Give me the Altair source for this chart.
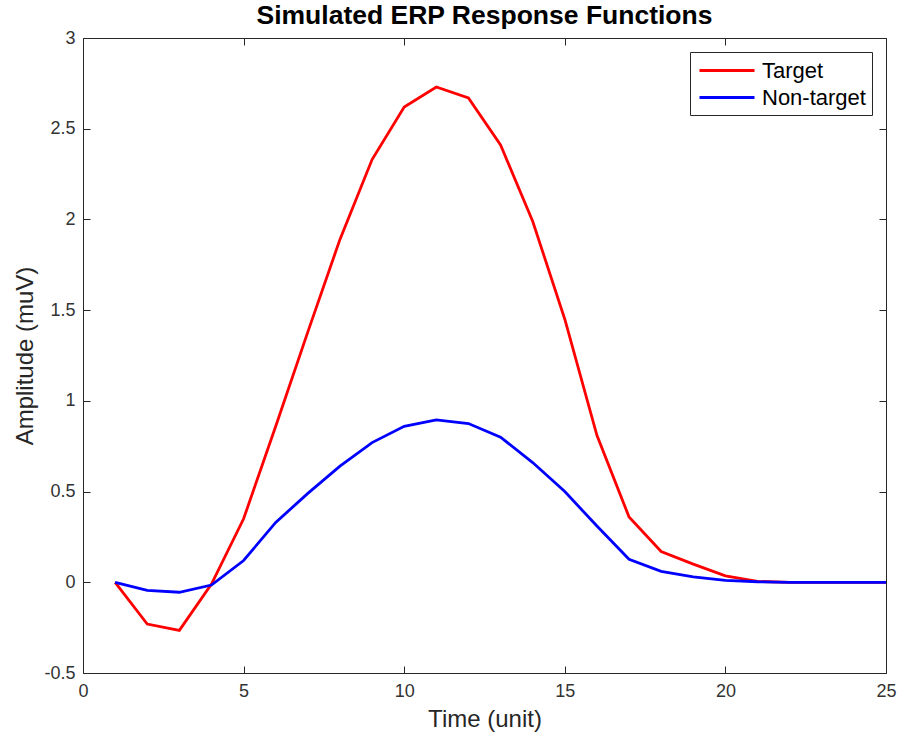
import altair as alt
import pandas as pd

time = list(range(1, 26))
target = [0.0, -0.23, -0.265, -0.01, 0.35, 0.86, 1.38, 1.89, 2.33, 2.62, 2.73, 2.67, 2.41, 1.99, 1.45, 0.81, 0.36, 0.17, 0.10, 0.035, 0.005, 0.0, 0.0, 0.0, 0.0]
nontarget = [0.0, -0.045, -0.055, -0.015, 0.12, 0.33, 0.49, 0.64, 0.77, 0.86, 0.895, 0.875, 0.80, 0.66, 0.50, 0.31, 0.127, 0.06, 0.03, 0.01, 0.003, 0.0, 0.0, 0.0, 0.0]
series_names = ["Target", "Non-target"]
series_colors = ["#FF0000", "#0000FF"]
x_ticks = [0, 5, 10, 15, 20, 25]
y_ticks = [-0.5, 0, 0.5, 1, 1.5, 2, 2.5, 3]

rows = []
for t, a, b in zip(time, target, nontarget):
    rows.append({"Time": t, "Amp": a, "Series": "Target"})
    rows.append({"Time": t, "Amp": b, "Series": "Non-target"})
df = pd.DataFrame(rows)

FONT = "Liberation Sans"
TICK = 7

xscale = alt.Scale(domain=[0, 25], nice=False, zero=False)
yscale = alt.Scale(domain=[-0.5, 3], nice=False, zero=False)

base_axis = dict(grid=False, domain=False, tickColor="#262626", tickWidth=1,
                 tickSize=TICK, offset=-TICK, labelFont=FONT, labelFontSize=18,
                 labelColor="#333333", labelFlush=False, titleFont=FONT,
                 titleFontSize=24, titleFontWeight="normal", titleColor="#262626")

lines = alt.Chart(df).mark_line(strokeWidth=2.8).encode(
    x=alt.X("Time:Q", scale=xscale,
            axis=alt.Axis(values=x_ticks, title="Time (unit)", labelPadding=9,
                          titlePadding=7, **base_axis)),
    y=alt.Y("Amp:Q", scale=yscale,
            axis=alt.Axis(values=y_ticks, title="Amplitude (muV)", labelPadding=8,
                          labelExpr="'' + datum.value", titlePadding=6, **base_axis)),
    color=alt.Color("Series:N",
                    scale=alt.Scale(domain=series_names, range=series_colors),
                    sort=series_names,
                    legend=alt.Legend(title=None, orient="top-right", offset=14,
                                      symbolType="M-1,0H4", symbolSize=484,
                                      symbolStrokeWidth=2.8, labelFont=FONT,
                                      labelFontSize=22, labelColor="#000000",
                                      strokeColor="#262626", fillColor="white",
                                      padding=6, rowPadding=3, symbolOffset=2,
                                      labelOffset=39)),
)

mirror = alt.Chart(df).mark_line(opacity=0).encode(
    x=alt.X("Time:Q", scale=xscale,
            axis=alt.Axis(values=x_ticks, orient="top", labels=False, title=None,
                          grid=False, domain=False, tickColor="#262626",
                          tickSize=TICK, offset=-TICK)),
    y=alt.Y("Amp:Q", scale=yscale,
            axis=alt.Axis(values=y_ticks, orient="right", labels=False, title=None,
                          grid=False, domain=False, tickColor="#262626",
                          tickSize=TICK, offset=-TICK)),
)

chart = alt.layer(lines, mirror).resolve_axis(x="independent", y="independent").properties(
    width=803, height=635,
    title=alt.TitleParams("Simulated ERP Response Functions", font=FONT,
                          fontSize=26.5, fontWeight="bold", color="#000000",
                          anchor="middle", offset=0),
    padding={"left": 83, "top": 38, "right": 16, "bottom": 69},
    autosize=alt.AutoSizeParams(type="none"),
).configure_view(stroke="#262626", strokeWidth=1)

chart.save("out.html", embed_options={"renderer": "svg", "actions": False})
